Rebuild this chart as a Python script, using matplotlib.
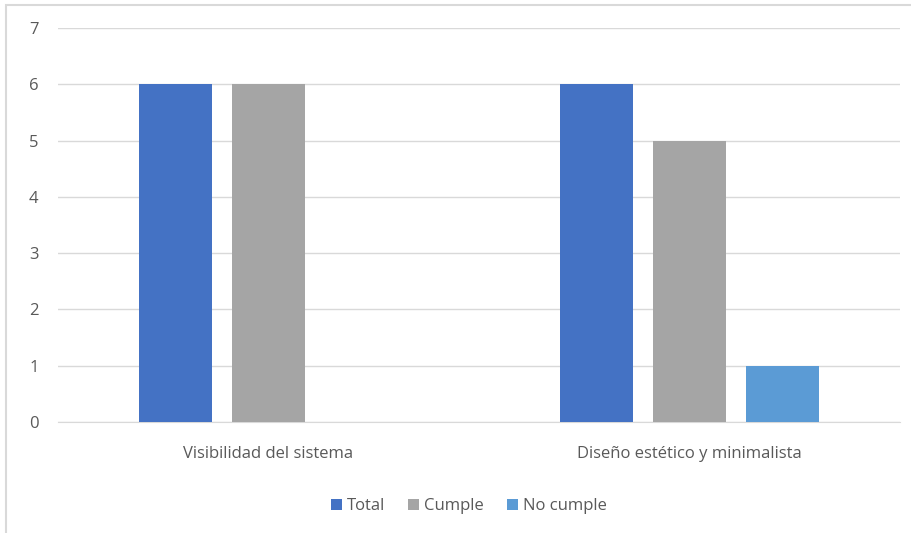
import matplotlib.pyplot as plt
from matplotlib.patches import Rectangle
import numpy as np

categories = ["Visibilidad del sistema", "Diseño estético y minimalista"]
series_names = ["Total", "Cumple", "No cumple"]
total = [6, 6]
cumple = [6, 5]
no_cumple = [0, 1]
colors = ["#4472c4", "#a5a5a5", "#5b9bd5"]

plt.rcParams["font.family"] = ["Open Sans", "DejaVu Sans"]
txt = "#595959"

fig = plt.figure(figsize=(9.12, 5.33), dpi=100)
ax = fig.add_axes([58 / 912, 1 - 422 / 533, 842 / 912, 394 / 533])

x = np.arange(len(categories))
w = 0.173
step = 0.221
for i, vals in enumerate([total, cumple, no_cumple]):
    ax.bar(x + (i - 1) * step, vals, width=w, color=colors[i], label=series_names[i], zorder=3)

ax.set_xlim(-0.5, 1.5)
ax.set_ylim(0, 7)
ax.set_yticks(range(0, 8))
ax.set_xticks(x)
ax.set_xticklabels(categories)
ax.grid(axis="y", color="#d9d9d9", linewidth=1, zorder=0)
for s in ["top", "right", "left"]:
    ax.spines[s].set_visible(False)
ax.spines["bottom"].set_color("#d9d9d9")
ax.tick_params(axis="both", length=0, colors=txt, labelsize=12)
ax.tick_params(axis="x", pad=17)
ax.tick_params(axis="y", pad=14)

leg = fig.legend(loc="center", bbox_to_anchor=(469 / 912, 1 - 506 / 533), ncol=3, frameon=False,
                 fontsize=12, handlelength=0.65, handleheight=0.65, handletextpad=0.3, columnspacing=1.4)
for t in leg.get_texts():
    t.set_color(txt)

fig.patches.append(Rectangle((6 / 912, -0.1), 1.2, 1 - 5 / 533 + 0.1, transform=fig.transFigure,
                             fill=False, edgecolor="#d9d9d9", linewidth=1.5))

fig.savefig("out.png", dpi=100)
